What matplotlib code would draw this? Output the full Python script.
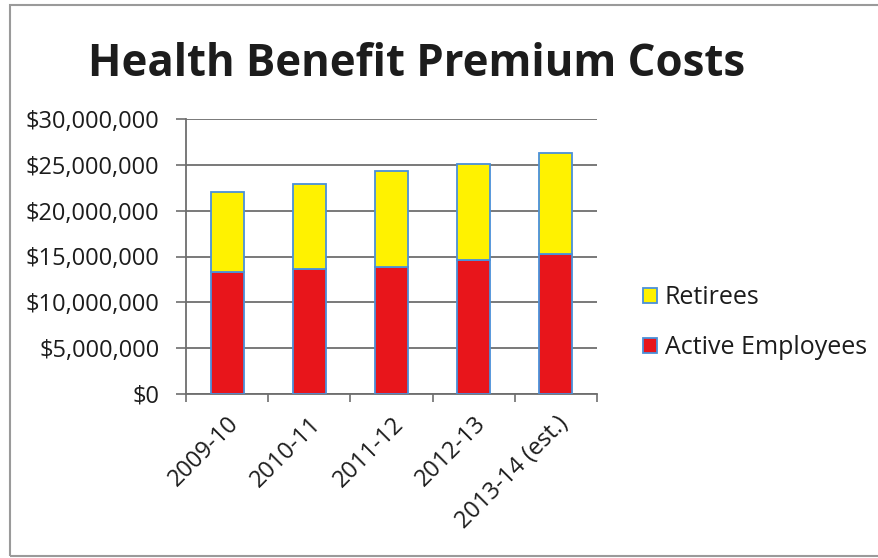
import matplotlib
matplotlib.use("Agg")
import matplotlib.pyplot as plt
from matplotlib.patches import Rectangle
from matplotlib.ticker import FuncFormatter, FixedLocator
import numpy as np

plt.rcParams["font.family"] = ["Open Sans", "DejaVu Sans"]

years = ["2009-10", "2010-11", "2011-12", "2012-13", "2013-14 (est.)"]
active_employees = [13_300_000, 13_650_000, 13_870_000, 14_670_000, 15_290_000]
retirees = [8_700_000, 9_270_000, 10_440_000, 10_370_000, 10_950_000]

RED = "#e8151b"
YELLOW = "#fff200"
EDGE = "#4a90d9"
GRID = "#6e6e6e"
TEXT = "#1c1c1c"

fig = plt.figure(figsize=(8.79, 5.58), dpi=100)
ax = fig.add_axes([186 / 879, 1 - 394 / 558, 411 / 879, 275 / 558])

x = np.arange(len(years))
ax.bar(x, active_employees, width=0.4, color=RED, edgecolor=EDGE, linewidth=1.3,
       label="Active Employees", zorder=3)
ax.bar(x, retirees, width=0.4, bottom=active_employees, color=YELLOW, edgecolor=EDGE,
       linewidth=1.3, label="Retirees", zorder=3)

ax.set_xlim(-0.5, len(years) - 0.5)
ax.set_ylim(0, 30_000_000)
ax.set_yticks(np.arange(0, 30_000_001, 5_000_000))
ax.yaxis.set_major_formatter(FuncFormatter(lambda v, _: f"${v:,.0f}"))
ax.tick_params(axis="y", direction="out", length=7, width=1.2, color=GRID,
               labelsize=17, labelcolor=TEXT, pad=12)
ax.grid(axis="y", color=GRID, linewidth=1.3, zorder=0)

# category labels at centres, tick marks on the boundaries
ax.set_xticks(x)
ax.set_xticklabels(years, rotation=45, ha="right", rotation_mode="anchor",
                   fontsize=17, color=TEXT)
ax.tick_params(axis="x", which="major", length=0, pad=13)
ax.xaxis.set_minor_locator(FixedLocator(np.arange(-0.5, len(years), 1.0)))
ax.tick_params(axis="x", which="minor", direction="out", length=6, width=1.2, color=GRID)

for side in ("top", "right"):
    ax.spines[side].set_visible(False)
for side in ("left", "bottom"):
    ax.spines[side].set_color(GRID)
    ax.spines[side].set_linewidth(1.3)

handles, labels = ax.get_legend_handles_labels()
leg = fig.legend(handles[::-1], labels[::-1], loc="center left",
                 bbox_to_anchor=(621 / 879, 1 - 323 / 558), frameon=False,
                 fontsize=18, handlelength=0.55, handleheight=0.55,
                 handletextpad=0.3, labelspacing=1.0)
for t in leg.get_texts():
    t.set_color(TEXT)

fig.text(0.474, 1 - 64 / 558, "Health Benefit Premium Costs", ha="center", va="center",
         fontsize=31.5, fontweight="bold", color=TEXT)

# chart frame
fig.patches.append(Rectangle((10 / 879, 2 / 558), 1.0, 1 - 7 / 558,
                             transform=fig.transFigure, fill=False,
                             edgecolor="#9a9a9a", linewidth=1.5))

fig.savefig("out.png", dpi=100)
plt.close(fig)
